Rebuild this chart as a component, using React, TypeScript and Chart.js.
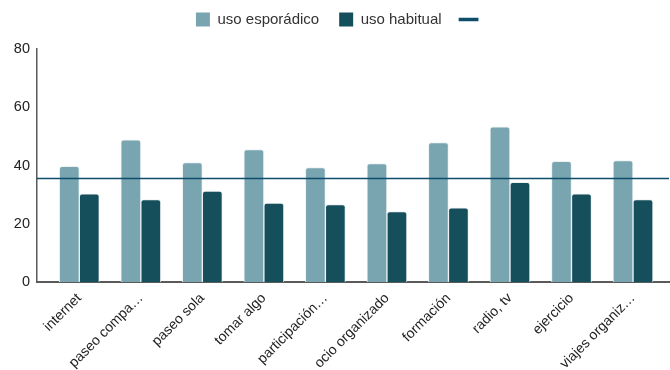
import React, { useEffect, useRef } from "react";
import { Chart, registerables } from "chart.js";

Chart.register(...registerables);

// Activity categories (tick labels as shown, already shortened)
const categories = [
  "internet",
  "paseo compa…",
  "paseo sola",
  "tomar algo",
  "participación…",
  "ocio organizado",
  "formación",
  "radio, tv",
  "ejercicio",
  "viajes organiz…",
];

const seriesLabels = ["uso esporádico", "uso habitual", ""];

// Percentages per activity
const usoEsporadico = [39.7, 48.8, 41.0, 45.5, 39.3, 40.7, 47.9, 53.3, 41.4, 41.7];
const usoHabitual = [30.3, 28.3, 31.2, 27.1, 26.6, 24.2, 25.5, 34.2, 30.3, 28.3];

// Horizontal reference level
const referencia = 35.5;

const yTicks = [0, 20, 40, 60, 80];

// Horizontal extent of the category axis (in category units)
const xMin = -0.6876;
const xMax = 9.585;

const colors = {
  esporadico: "#78a5b0",
  habitual: "#164f5c",
  referencia: "#0f4d6b",
  barEdge: "rgba(236,240,241,0.95)",
  axis: "#5a5a5a",
  text: "#222222",
};

export default function App() {
  const canvasRef = useRef<HTMLCanvasElement | null>(null);

  useEffect(() => {
    const canvas = canvasRef.current;
    if (!canvas) return;

    Chart.defaults.font.family = "'Liberation Sans', Arial, sans-serif";
    Chart.defaults.font.size = 14;
    Chart.defaults.color = colors.text;

    const toPoints = (values: number[]) => values.map((v, i) => ({ x: i, y: v }));

    const barStyle = {
      borderColor: colors.barEdge,
      borderWidth: 1,
      borderRadius: 3,
      barThickness: 20,
      pointStyle: "rect",
      order: 1,
    };

    const chart = new Chart(canvas, {
      type: "bar",
      data: {
        datasets: [
          {
            type: "bar",
            label: seriesLabels[0],
            data: toPoints(usoEsporadico),
            backgroundColor: colors.esporadico,
            ...barStyle,
          },
          {
            type: "bar",
            label: seriesLabels[1],
            data: toPoints(usoHabitual),
            backgroundColor: colors.habitual,
            ...barStyle,
          },
          {
            // reference level spanning the whole plot width
            type: "line",
            label: seriesLabels[2],
            data: [
              { x: xMin, y: referencia },
              { x: xMax, y: referencia },
            ],
            borderColor: colors.referencia,
            backgroundColor: colors.referencia,
            borderWidth: 1.5,
            pointRadius: 0,
            pointHoverRadius: 0,
            pointStyle: "line",
            order: 0,
          },
        ],
      },
      options: {
        responsive: false,
        animation: false,
        devicePixelRatio: 1,
        layout: { padding: { top: -8, right: 1, bottom: 0, left: 10 } },
        plugins: {
          tooltip: { enabled: false },
          legend: {
            position: "top",
            align: "center",
            labels: {
              usePointStyle: true,
              boxWidth: 14,
              boxHeight: 14,
              padding: 20,
              color: "#333333",
              font: { size: 15 },
              sort: (a: any, b: any) => a.datasetIndex - b.datasetIndex,
              generateLabels: (ch: any) => {
                const items = Chart.defaults.plugins.legend.labels.generateLabels(ch);
                return items.map((item: any) => {
                  if (item.pointStyle === "line") {
                    return { ...item, lineWidth: 3.5, strokeStyle: colors.referencia };
                  }
                  return { ...item, lineWidth: 0 };
                });
              },
            },
          },
        },
        scales: {
          x: {
            type: "linear",
            position: "bottom",
            offset: false,
            min: xMin,
            max: xMax,
            grid: { display: false, drawTicks: false, offset: false },
            border: { display: true, color: colors.axis, width: 2 },
            afterBuildTicks: (axis: any) => {
              axis.ticks = categories.map((_, i) => ({ value: i }));
            },
            afterFit: (scale: any) => {
              scale.height = 88;
            },
            ticks: {
              autoSkip: false,
              minRotation: 45,
              maxRotation: 45,
              padding: 8,
              color: colors.text,
              font: { size: 14 },
              callback: (value: any) => categories[Math.round(Number(value))] ?? "",
            },
          },
          // empty top axis: keeps a small gap between legend and plot
          xTop: {
            type: "linear",
            position: "top",
            offset: false,
            min: 0,
            max: 1,
            display: true,
            grid: { display: false, drawTicks: false, offset: false },
            border: { display: false },
            ticks: { display: false },
            afterFit: (scale: any) => {
              scale.height = 12;
            },
          },
          y: {
            type: "linear",
            min: yTicks[0],
            max: yTicks[yTicks.length - 1],
            grid: { display: false, drawTicks: false },
            border: { display: true, color: colors.axis, width: 1.5 },
            afterBuildTicks: (axis: any) => {
              axis.ticks = yTicks.map((v) => ({ value: v }));
            },
            afterFit: (scale: any) => {
              scale.width = 27;
            },
            ticks: {
              padding: 7,
              color: colors.text,
              font: { size: 14.5 },
            },
          },
        },
      },
    } as any);

    return () => {
      chart.destroy();
    };
  }, []);

  return (
    <div
      style={{
        position: "fixed",
        left: 0,
        top: 0,
        width: 670,
        height: 370,
        background: "#ffffff",
      }}
    >
      <canvas ref={canvasRef} width={670} height={370} style={{ display: "block" }} />
    </div>
  );
}
